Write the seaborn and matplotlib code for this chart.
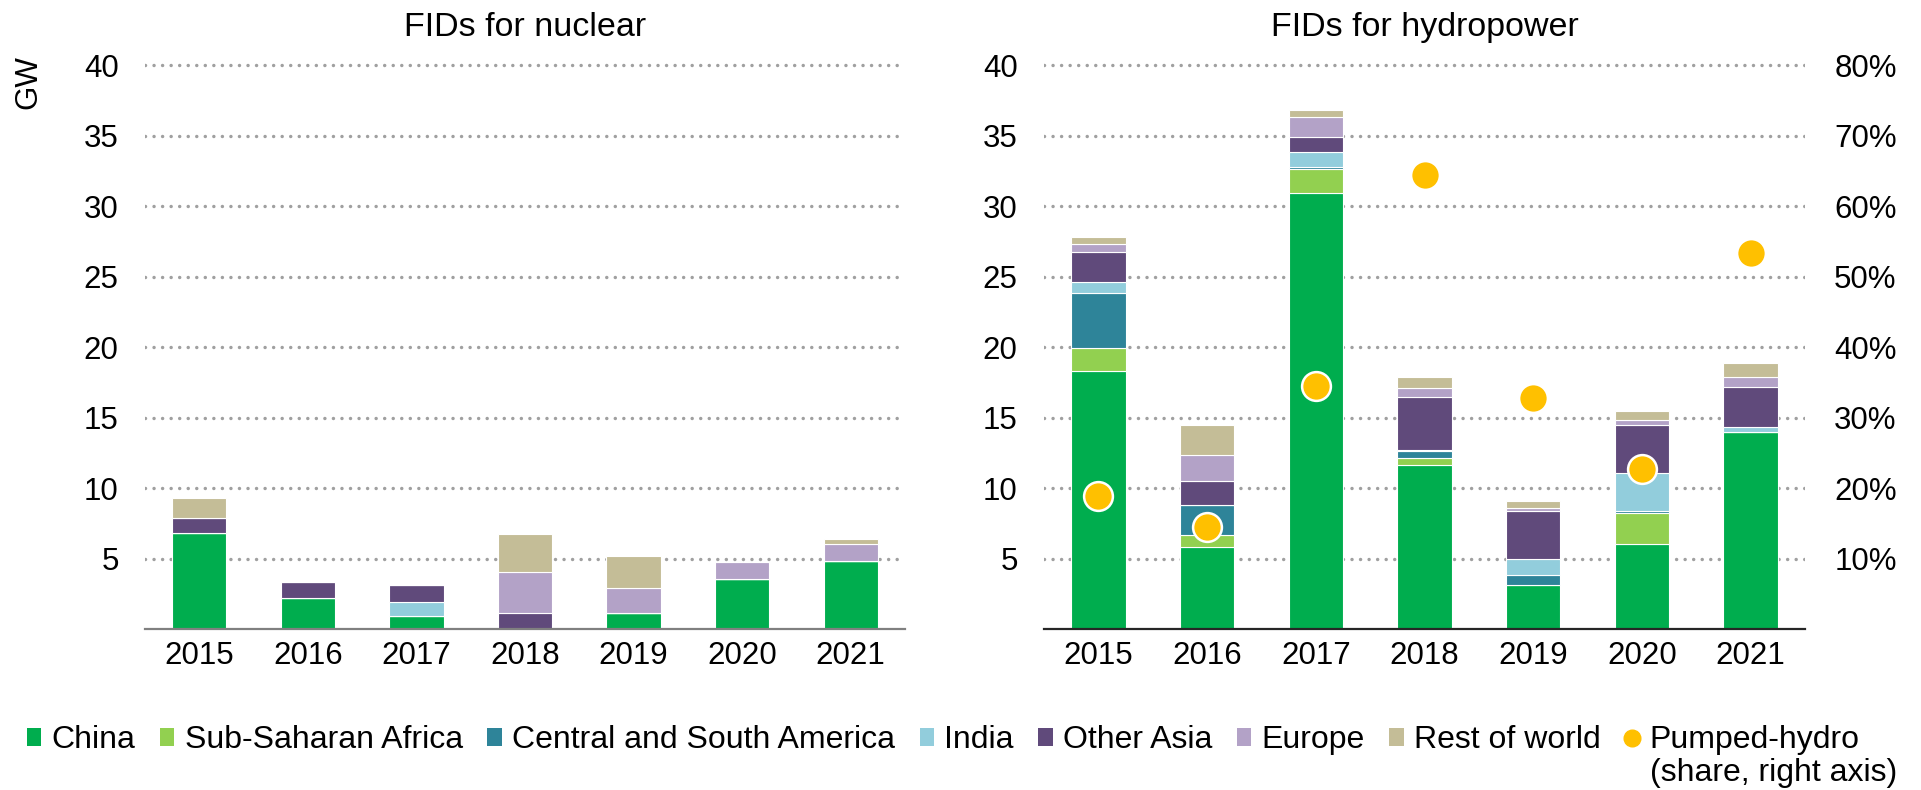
import numpy as np
import pandas as pd
import matplotlib
matplotlib.use("Agg")
import matplotlib.pyplot as plt
from matplotlib.patches import Patch
from matplotlib.lines import Line2D
import seaborn as sns

# ---------------- data ----------------
years = ["2015", "2016", "2017", "2018", "2019", "2020", "2021"]
regions = ["China", "Sub-Saharan Africa", "Central and South America", "India",
           "Other Asia", "Europe", "Rest of world"]
colors = ["#00AD4E", "#92D050", "#2E8499", "#92CDDC", "#604A7B", "#B3A2C7", "#C4BD97"]

# Nuclear FIDs (GW)
nuc_china = [6.8, 2.2, 0.95, 0.0, 1.15, 3.55, 4.85]
nuc_ssa = [0, 0, 0, 0, 0, 0, 0]
nuc_csa = [0, 0, 0, 0, 0, 0, 0]
nuc_india = [0, 0, 0.95, 0, 0, 0, 0]
nuc_oasia = [1.1, 1.1, 1.25, 1.15, 0, 0, 0]
nuc_europe = [0, 0, 0, 2.9, 1.75, 1.2, 1.2]
nuc_row = [1.4, 0, 0, 2.7, 2.3, 0, 0.35]

# Hydropower FIDs (GW)
hyd_china = [18.3, 5.8, 30.9, 11.65, 3.15, 6.0, 13.95]
hyd_ssa = [1.6, 0.9, 1.7, 0.5, 0, 2.25, 0]
hyd_csa = [3.9, 2.1, 0.2, 0.5, 0.7, 0.1, 0]
hyd_india = [0.8, 0, 1.05, 0.07, 1.1, 2.7, 0.35]
hyd_oasia = [2.15, 1.7, 1.05, 3.7, 3.45, 3.4, 2.85]
hyd_europe = [0.55, 1.85, 1.45, 0.65, 0.2, 0.35, 0.7]
hyd_row = [0.5, 2.1, 0.45, 0.8, 0.5, 0.65, 1.0]

# Pumped-hydro share of hydropower FIDs (%)
pumped_share = [18.9, 14.5, 34.5, 64.4, 32.7, 22.7, 53.4]

nuc = [nuc_china, nuc_ssa, nuc_csa, nuc_india, nuc_oasia, nuc_europe, nuc_row]
hyd = [hyd_china, hyd_ssa, hyd_csa, hyd_india, hyd_oasia, hyd_europe, hyd_row]

# ---------------- style ----------------
sns.set_theme(style="white")
plt.rcParams["font.family"] = ["Liberation Sans", "DejaVu Sans"]
plt.rcParams["text.color"] = "black"
TICK_FS = 22.5
TITLE_FS = 24.5
LEG_FS = 23
PUMP_COLOR = "#FFC000"

fig = plt.figure(figsize=(19.21, 7.90), dpi=100)
W, H = 1921, 790
ax_bottom = (H - 629) / H
ax_height = 571 / H
axL = fig.add_axes([145 / W, ax_bottom, 760 / W, ax_height])
axR = fig.add_axes([1044 / W, ax_bottom, 761 / W, ax_height])


def stacked(ax, series, title, base_color):
    bottom = np.zeros(len(years))
    for vals, col, name in zip(series, colors, regions):
        df = pd.DataFrame({"year": years, "gw": vals})
        sns.barplot(data=df, x="year", y="gw", order=years, color=col,
                    width=0.5, bottom=bottom, edgecolor="white", linewidth=0.8,
                    saturation=1, errorbar=None, ax=ax, zorder=2)
        bottom = bottom + np.array(vals, dtype=float)
    ax.set_xlim(-0.5, len(years) - 0.5)
    ax.set_ylim(0, 40.5)
    ax.set_yticks(range(5, 45, 5))
    ax.set_xlabel("")
    ax.set_ylabel("")
    ax.set_axisbelow(True)
    ax.yaxis.grid(True, color="#A0A0A0", linewidth=2.5,
                  linestyle=(0, (0.01, 2.45)), dash_capstyle="round")
    ax.xaxis.grid(False)
    for s in ["top", "left", "right"]:
        ax.spines[s].set_visible(False)
    ax.spines["bottom"].set_color(base_color)
    ax.spines["bottom"].set_linewidth(1.6)
    ax.tick_params(axis="y", length=0, pad=19, labelsize=TICK_FS, colors="black")
    ax.tick_params(axis="x", length=0, pad=9, labelsize=TICK_FS, colors="black")
    ax.set_title(title, fontsize=TITLE_FS, pad=16, color="black")


stacked(axL, nuc, "FIDs for nuclear", "#808080")
stacked(axR, hyd, "FIDs for hydropower", "#262626")

ax2 = axR.twinx()
ax2.set_ylim(0, 81)
ax2.set_yticks(range(10, 90, 10))
ax2.set_yticklabels([f"{v}%" for v in range(10, 90, 10)])
ax2.tick_params(axis="y", length=0, pad=21, labelsize=TICK_FS, colors="black")
for s in ax2.spines.values():
    s.set_visible(False)
ax2.grid(False)
dfp = pd.DataFrame({"pos": np.arange(len(years)), "share": pumped_share})
sns.scatterplot(data=dfp, x="pos", y="share", ax=ax2, color=PUMP_COLOR, s=430,
                edgecolor="white", linewidth=1.8, zorder=5, legend=False)
ax2.set_xlim(-0.5, len(years) - 0.5)
ax2.set_xlabel("")
ax2.set_ylabel("")

fig.text(28 / W, (H - 82) / H, "GW", rotation=90, fontsize=TICK_FS,
         ha="center", va="center", color="black")

handles = [Patch(facecolor=c, edgecolor="none") for c in colors]
handles.append(Line2D([], [], marker="o", linestyle="none", markersize=12,
                      markerfacecolor=PUMP_COLOR, markeredgecolor=PUMP_COLOR))
labels = regions + ["Pumped-hydro"]
leg = fig.legend(handles, labels, loc="center left",
                 bbox_to_anchor=(27 / W, (H - 740) / H), ncol=8, frameon=False,
                 fontsize=LEG_FS, handlelength=0.45, handleheight=0.5,
                 handletextpad=0.32, columnspacing=0.77, borderpad=0,
                 borderaxespad=0)

fig.canvas.draw()
bb = leg.get_texts()[-1].get_window_extent()
x0 = bb.x0 / fig.bbox.width
fig.text(x0, (H - 773) / H, "(share, right axis)", fontsize=LEG_FS,
         ha="left", va="center", color="black")

fig.savefig("out.png", dpi=100)
